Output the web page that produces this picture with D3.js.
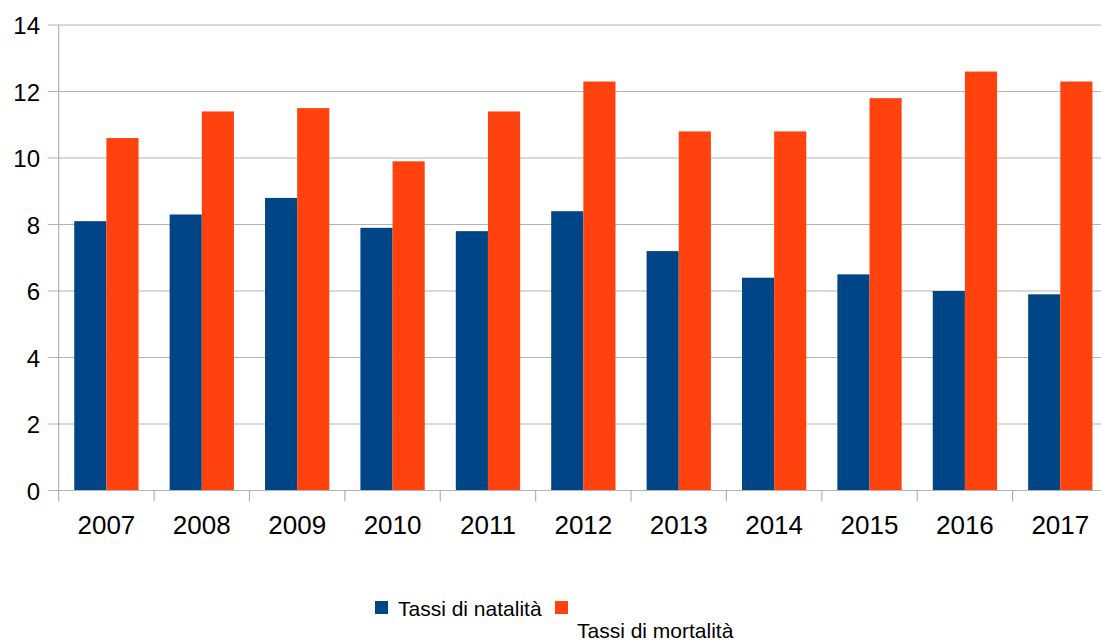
<!DOCTYPE html>
<head>
<meta charset="utf-8">
<script src="https://cdn.jsdelivr.net/npm/d3@7"></script>
<style>
  body { margin: 0; background: #fff; }
  text { font-family: "Liberation Sans", Arial, sans-serif; fill: #000; }
</style>
</head>
<body>
<div id="chart"></div>
<script>
// data
var years = ["2007","2008","2009","2010","2011","2012","2013","2014","2015","2016","2017"];
var natalita = [8.1, 8.3, 8.8, 7.9, 7.8, 8.4, 7.2, 6.4, 6.5, 6.0, 5.9];
var mortalita = [10.6, 11.4, 11.5, 9.9, 11.4, 12.3, 10.8, 10.8, 11.8, 12.6, 12.3];
var seriesNames = ["Tassi di natalità", "Tassi di mortalità"];
var colors = ["#004586", "#ff420e"];
var yTicks = [0, 2, 4, 6, 8, 10, 12, 14];

var W = 1101, H = 643;
var plotLeft = 58.7, plotRight = 1108, plotTop = 25, plotBottom = 490.5;

var svg = d3.select("#chart").append("svg")
  .attr("width", W).attr("height", H);

var y = d3.scaleLinear().domain([0, 14]).range([plotBottom, plotTop]);
var x = d3.scaleBand().domain(years).range([plotLeft, plotRight]).padding(0);
var xs = d3.scaleBand().domain([0, 1])
  .range([x.bandwidth() * 0.163, x.bandwidth() * 0.837]);

// grid lines + y tick marks
svg.append("g").selectAll("line").data(yTicks).enter().append("line")
  .attr("x1", plotLeft - 11).attr("x2", W)
  .attr("y1", function(d) { return y(d); })
  .attr("y2", function(d) { return y(d); })
  .attr("stroke", "#b3b3b3").attr("stroke-width", 1.2);

// y axis line
svg.append("line")
  .attr("x1", plotLeft).attr("x2", plotLeft)
  .attr("y1", plotTop).attr("y2", plotBottom)
  .attr("stroke", "#b3b3b3").attr("stroke-width", 1.2);

// y labels
svg.append("g").selectAll("text").data(yTicks).enter().append("text")
  .attr("x", 40).attr("y", function(d) { return y(d) + 9; })
  .attr("text-anchor", "end").style("font-size", "24px")
  .text(function(d) { return d; });

// bars
var groups = svg.append("g").selectAll("g").data(years).enter().append("g")
  .attr("transform", function(d) { return "translate(" + x(d) + ",0)"; });

groups.selectAll("rect")
  .data(function(d, i) { return [natalita[i], mortalita[i]]; })
  .enter().append("rect")
    .attr("x", function(d, j) { return xs(j); })
    .attr("width", xs.bandwidth())
    .attr("y", function(d) { return y(d); })
    .attr("height", function(d) { return plotBottom - y(d); })
    .attr("fill", function(d, j) { return colors[j]; });

// x axis line and category ticks
svg.append("line")
  .attr("x1", plotLeft).attr("x2", W)
  .attr("y1", plotBottom).attr("y2", plotBottom)
  .attr("stroke", "#b3b3b3").attr("stroke-width", 1.2);

var bounds = years.map(function(d) { return x(d); }).concat([x(years[years.length - 1]) + x.bandwidth()]);
svg.append("g").selectAll("line").data(bounds).enter().append("line")
  .attr("x1", function(d) { return d; }).attr("x2", function(d) { return d; })
  .attr("y1", plotBottom).attr("y2", plotBottom + 11)
  .attr("stroke", "#b3b3b3").attr("stroke-width", 1.2);

// x labels
svg.append("g").selectAll("text").data(years).enter().append("text")
  .attr("x", function(d) { return x(d) + x.bandwidth() / 2; })
  .attr("y", 534)
  .attr("text-anchor", "middle").style("font-size", "26px")
  .text(function(d) { return d; });

// legend
svg.append("rect").attr("x", 375).attr("y", 601).attr("width", 13).attr("height", 13).attr("fill", colors[0]);
svg.append("text").attr("x", 398).attr("y", 615.5).style("font-size", "21px").text(seriesNames[0]);
svg.append("rect").attr("x", 555).attr("y", 601).attr("width", 13).attr("height", 13).attr("fill", colors[1]);
svg.append("text").attr("x", 577).attr("y", 637.5).style("font-size", "21px").text(seriesNames[1]);
</script>
</body>
